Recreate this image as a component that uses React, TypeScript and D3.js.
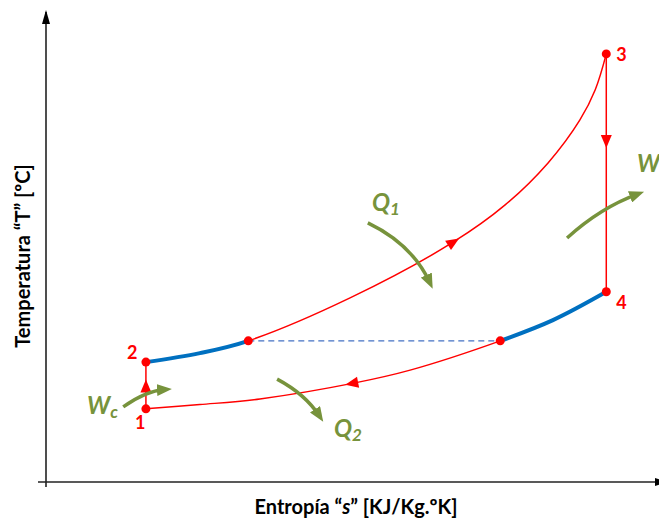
import React, { useRef, useEffect } from 'react';
import * as d3 from 'd3';

const WIDTH = 659;
const HEIGHT = 518;

// state points of the cycle (s, T), arbitrary units (no ticks on the chart)
const stateIds = ['1', '2', '3', '4'];
const stateS = [16.3, 16.3, 91.4, 91.4];
const stateT = [15.5, 25.4, 90.7, 40.3];

// saturated liquid / vapour points joined by the dashed line
const satS = [33.0, 74.1];
const satT = [29.9, 29.9];

// heat addition curve 2 -> 3
const upperS = [16.3, 25.1, 33.0, 49.6, 66.4, 74.9, 81.9, 87.1, 89.6, 91.4];
const upperT = [25.4, 27.3, 29.9, 39.0, 50.8, 58.7, 67.6, 76.7, 83.1, 90.7];

// heat rejection curve 4 -> 1
const lowerS = [16.3, 25.1, 34.9, 50.4, 59.4, 74.1, 82.7, 91.4];
const lowerT = [15.5, 16.4, 17.6, 21.0, 23.7, 29.9, 34.3, 40.3];

// curved green arrows for work / heat: label, subscript, start, control, end
const flowLabels = ['W', 'Q', 'Q', 'W'];
const flowSubs = ['c', '1', '2', ''];
const flowFrom = [[12.6, 15.9], [52.5, 54.9], [37.7, 21.8], [85.0, 51.7]];
const flowCtrl = [[16.2, 19.3], [59.7, 50.4], [42.3, 18.6], [90.4, 58.1]];
const flowTo = [[19.4, 19.6], [62.6, 42.3], [44.6, 14.0], [96.5, 61.0]];

const RED = '#ff0000';
const BLUE = '#0070c0';
const GREEN = '#77933c';
const FONT = 'Lato, "Open Sans", sans-serif';

const App = () => {
  const svgRef = useRef(null);

  useEffect(() => {
    const svg = d3.select(svgRef.current);
    svg.selectAll('*').remove();

    const x = d3.scaleLinear().domain([0, 100]).range([46, 659]);
    const y = d3.scaleLinear().domain([0, 100]).range([482, 10]);

    const defs = svg.append('defs');
    defs.append('marker')
      .attr('id', 'axisHead')
      .attr('viewBox', '0 -5 14 10')
      .attr('markerUnits', 'userSpaceOnUse')
      .attr('markerWidth', 14).attr('markerHeight', 10)
      .attr('refX', 12).attr('refY', 0)
      .attr('orient', 'auto')
      .append('path').attr('d', 'M0,-4 L14,0 L0,4 z').attr('fill', '#000');
    defs.append('marker')
      .attr('id', 'greenHead')
      .attr('viewBox', '0 -6 15 12')
      .attr('markerUnits', 'userSpaceOnUse')
      .attr('markerWidth', 15).attr('markerHeight', 12)
      .attr('refX', 8).attr('refY', 0)
      .attr('orient', 'auto')
      .append('path').attr('d', 'M0,-6 L15,0 L0,6 z').attr('fill', GREEN);

    // axes
    svg.append('line')
      .attr('x1', x(0)).attr('y1', y(0) + 5)
      .attr('x2', x(0)).attr('y2', 12)
      .attr('stroke', '#222').attr('stroke-width', 1.6)
      .attr('marker-end', 'url(#axisHead)');
    svg.append('line')
      .attr('x1', x(0) - 8).attr('y1', y(0))
      .attr('x2', WIDTH + 8).attr('y2', y(0))
      .attr('stroke', '#222').attr('stroke-width', 1.6)
      .attr('marker-end', 'url(#axisHead)');

    svg.append('text')
      .attr('x', 356).attr('y', 514)
      .attr('text-anchor', 'middle')
      .attr('font-family', FONT).attr('font-weight', 'bold').attr('font-size', 20)
      .attr('fill', '#000')
      .call(t => {
        t.append('tspan').text('Entropía “');
        t.append('tspan').attr('font-style', 'italic').text('s');
        t.append('tspan').text('” [KJ/Kg.ºK]');
      });
    svg.append('text')
      .attr('transform', 'translate(30,256) rotate(-90)')
      .attr('text-anchor', 'middle')
      .attr('font-family', FONT).attr('font-weight', 'bold').attr('font-size', 20)
      .attr('fill', '#000')
      .text('Temperatura “T” [ºC]');

    const line = d3.line().x(d => x(d[0])).y(d => y(d[1])).curve(d3.curveCatmullRom.alpha(0.5));
    const upper = upperS.map((s, i) => [s, upperT[i]]);
    const lower = lowerS.map((s, i) => [s, lowerT[i]]);

    // clip regions for the thick blue (two-phase boundary) parts
    defs.append('clipPath').attr('id', 'clipLeft')
      .append('rect')
      .attr('x', x(stateS[1]) - 2).attr('y', 0)
      .attr('width', x(satS[0]) - x(stateS[1]) + 2).attr('height', HEIGHT);
    defs.append('clipPath').attr('id', 'clipRight')
      .append('rect')
      .attr('x', x(satS[1])).attr('y', 0)
      .attr('width', x(stateS[3]) - x(satS[1]) + 2).attr('height', HEIGHT);

    // dashed line between saturation points
    svg.append('line')
      .attr('x1', x(satS[0])).attr('y1', y(satT[0]))
      .attr('x2', x(satS[1])).attr('y2', y(satT[1]))
      .attr('stroke', '#4472c4').attr('stroke-width', 1.2)
      .attr('stroke-dasharray', '6,4');

    const upperPath = svg.append('path')
      .attr('d', line(upper)).attr('fill', 'none')
      .attr('stroke', RED).attr('stroke-width', 1.5);
    const lowerPath = svg.append('path')
      .attr('d', line(lower)).attr('fill', 'none')
      .attr('stroke', RED).attr('stroke-width', 1.5);

    svg.append('path')
      .attr('d', line(upper)).attr('fill', 'none')
      .attr('clip-path', 'url(#clipLeft)')
      .attr('stroke', BLUE).attr('stroke-width', 4);
    svg.append('path')
      .attr('d', line(lower)).attr('fill', 'none')
      .attr('clip-path', 'url(#clipRight)')
      .attr('stroke', BLUE).attr('stroke-width', 4);

    // vertical processes 1->2 and 3->4
    svg.append('line')
      .attr('x1', x(stateS[0])).attr('y1', y(stateT[0]))
      .attr('x2', x(stateS[1])).attr('y2', y(stateT[1]))
      .attr('stroke', RED).attr('stroke-width', 1.5);
    svg.append('line')
      .attr('x1', x(stateS[2])).attr('y1', y(stateT[2]))
      .attr('x2', x(stateS[3])).attr('y2', y(stateT[3]))
      .attr('stroke', RED).attr('stroke-width', 1.5);

    // red direction arrowheads
    const tri = (px, py, angle) => {
      svg.append('path')
        .attr('d', 'M7,0 L-6,-5.5 L-6,5.5 z')
        .attr('transform', `translate(${px},${py}) rotate(${angle})`)
        .attr('fill', RED);
    };
    const onPath = (node, targetX, forward) => {
      const len = node.getTotalLength();
      let best = 0;
      for (let l = 0; l <= len; l += 0.5) {
        const p = node.getPointAtLength(l);
        if (p.x >= targetX) { best = l; break; }
      }
      const p = node.getPointAtLength(best);
      const q = node.getPointAtLength(Math.min(len, best + 2));
      let ang = Math.atan2(q.y - p.y, q.x - p.x) * 180 / Math.PI;
      if (!forward) ang += 180;
      tri(p.x, p.y, ang);
    };
    onPath(upperPath.node(), 453, true);
    onPath(lowerPath.node(), 352, false);
    tri(x(stateS[0]), (y(stateT[0]) + y(stateT[1])) / 2 + 1, -90);
    tri(x(stateS[2]), 141, 90);

    // points
    const dots = stateS.map((s, i) => [s, stateT[i]]).concat(satS.map((s, i) => [s, satT[i]]));
    svg.selectAll('.dot')
      .data(dots)
      .enter().append('circle')
      .attr('class', 'dot')
      .attr('cx', d => x(d[0])).attr('cy', d => y(d[1]))
      .attr('r', 4.5).attr('fill', RED);

    const labelOffsets = [[-11, 20], [-19, -3], [10, 7], [10, 17]];
    svg.selectAll('.num')
      .data(stateIds)
      .enter().append('text')
      .attr('class', 'num')
      .attr('x', (d, i) => x(stateS[i]) + labelOffsets[i][0])
      .attr('y', (d, i) => y(stateT[i]) + labelOffsets[i][1])
      .attr('font-family', FONT).attr('font-weight', 'bold').attr('font-size', 18)
      .attr('fill', RED)
      .text(d => d);

    // green work / heat arrows
    flowFrom.forEach((f, i) => {
      const c = flowCtrl[i];
      const t = flowTo[i];
      const p = d3.path();
      p.moveTo(x(f[0]), y(f[1]));
      p.quadraticCurveTo(x(c[0]), y(c[1]), x(t[0]), y(t[1]));
      svg.append('path')
        .attr('d', p.toString()).attr('fill', 'none')
        .attr('stroke', GREEN).attr('stroke-width', 3.5)
        .attr('marker-end', 'url(#greenHead)');
    });

    const labelPos = [[87, 414], [372, 211], [334, 437], [637, 172]];
    flowLabels.forEach((lab, i) => {
      svg.append('text')
        .attr('x', labelPos[i][0]).attr('y', labelPos[i][1])
        .attr('font-family', FONT).attr('font-weight', 'bold')
        .attr('font-style', 'italic').attr('font-size', 24)
        .attr('fill', GREEN)
        .call(tx => {
          tx.append('tspan').text(lab);
          if (flowSubs[i]) {
            tx.append('tspan').attr('dy', 4).attr('font-size', 17).text(flowSubs[i]);
          }
        });
    });
  }, []);

  return (
    <svg ref={svgRef} width={WIDTH} height={HEIGHT}
      style={{ position: 'absolute', left: 0, top: 0, background: '#fff' }} />
  );
};

export default App;
